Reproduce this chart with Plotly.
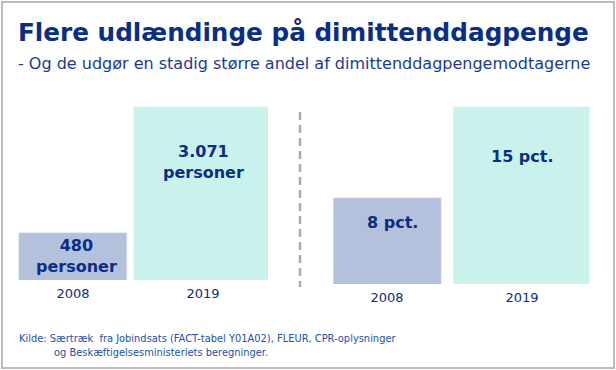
import plotly.graph_objects as go

# ---- data ----
years = ["2008", "2019"]
persons = [480, 3071]          # antal udlændinge på dimittenddagpenge
shares = [8, 15]               # andel i pct.
title = "Flere udlændinge på dimittenddagpenge"
subtitle = "- Og de udgør en stadig større andel af dimittenddagpengemodtagerne"
source1 = "Kilde: Særtræk  fra Jobindsats (FACT-tabel Y01A02), FLEUR, CPR-oplysninger"
source2 = "og Beskæftigelsesministeriets beregninger."

W, H = 616, 370
NAVY = "#0A2D86"
C2008 = "#B3C1DC"
C2019 = "#CAF2EC"
FONT = "DejaVu Sans"


def px(x):
    return x / W


def py(y):
    return 1 - y / H


fig = go.Figure()
fig.add_trace(go.Bar(x=years, y=persons, marker_color=[C2008, C2019],
                     width=[0.83, 1.06], xaxis="x", yaxis="y",
                     hoverinfo="skip", showlegend=False))
fig.add_trace(go.Bar(x=years, y=shares, marker_color=[C2008, C2019],
                     width=[0.8, 1.02], xaxis="x2", yaxis="y2",
                     hoverinfo="skip", showlegend=False))

xcommon = dict(type="category", showgrid=False, zeroline=False, showline=False,
               ticks="", tickfont=dict(family=FONT, size=13, color=NAVY),
               ticklabelstandoff=4, range=[-0.5, 1.5], fixedrange=True)
ycommon = dict(type="log", visible=False, showgrid=False, fixedrange=True)

fig.update_layout(
    width=W, height=H,
    margin=dict(l=0, r=0, t=0, b=0),
    paper_bgcolor="white", plot_bgcolor="white",
    bargap=0,
    xaxis=dict(**xcommon, domain=[px(8), px(268)], anchor="y"),
    yaxis=dict(**ycommon, domain=[py(280), py(100)], range=[2.380, 3.5323], anchor="x"),
    xaxis2=dict(**xcommon, domain=[px(319.5), px(589.5)], anchor="y2"),
    yaxis2=dict(**ycommon, domain=[py(284), py(100)], range=[0.645, 1.197], anchor="x2"),
)

def fmt_persons(v):
    return f"{v:,}".replace(",", ".") + "<br>personer"

ann = []
ann.append(dict(text=f"<b>{title}</b>", x=px(16), y=py(33), xref="paper", yref="paper",
                xanchor="left", yanchor="middle", showarrow=False,
                font=dict(family=FONT, size=24.7, color=NAVY)))
ann.append(dict(text=subtitle, x=px(16), y=py(63), xref="paper", yref="paper",
                xanchor="left", yanchor="middle", showarrow=False,
                font=dict(family=FONT, size=16, color="#1A3A92")))
# bar labels (x given as category index)
bar_font = dict(family=FONT, size=16, color=NAVY)
ann.append(dict(text=f"<b>{fmt_persons(persons[0])}</b>", x=0, y=py(256), xref="x", yref="paper",
                xshift=3, showarrow=False, font=bar_font, yanchor="middle"))
ann.append(dict(text=f"<b>{fmt_persons(persons[1])}</b>", x=1, y=py(162), xref="x", yref="paper",
                showarrow=False, font=bar_font, yanchor="middle"))
ann.append(dict(text=f"<b>{shares[0]} pct.</b>", x=0, y=py(223), xref="x2", yref="paper",
                xshift=5, showarrow=False, font=bar_font, yanchor="middle"))
ann.append(dict(text=f"<b>{shares[1]} pct.</b>", x=1, y=py(156), xref="x2", yref="paper",
                showarrow=False, font=bar_font, yanchor="middle"))
# source
src_font = dict(family=FONT, size=9.9, color="#2350A8")
ann.append(dict(text=source1, x=px(17), y=py(338), xref="paper", yref="paper",
                xanchor="left", yanchor="middle", showarrow=False, font=src_font))
ann.append(dict(text=source2, x=px(52), y=py(352), xref="paper", yref="paper",
                xanchor="left", yanchor="middle", showarrow=False, font=src_font))
fig.update_layout(annotations=ann)

fig.add_shape(type="line", xref="paper", yref="paper",
              x0=px(300), x1=px(300), y0=py(112), y1=py(287),
              line=dict(color="#ADA9A3", width=2.5, dash="8px,5px"))
fig.add_shape(type="rect", xref="paper", yref="paper",
              x0=px(2), x1=px(614), y0=py(368), y1=py(2),
              line=dict(color="#BFBCB8", width=2), fillcolor="rgba(0,0,0,0)", layer="above")

fig.write_html("out.html", config={"displayModeBar": False},
               post_script="document.body.style.margin='0';document.body.style.overflow='hidden';")
